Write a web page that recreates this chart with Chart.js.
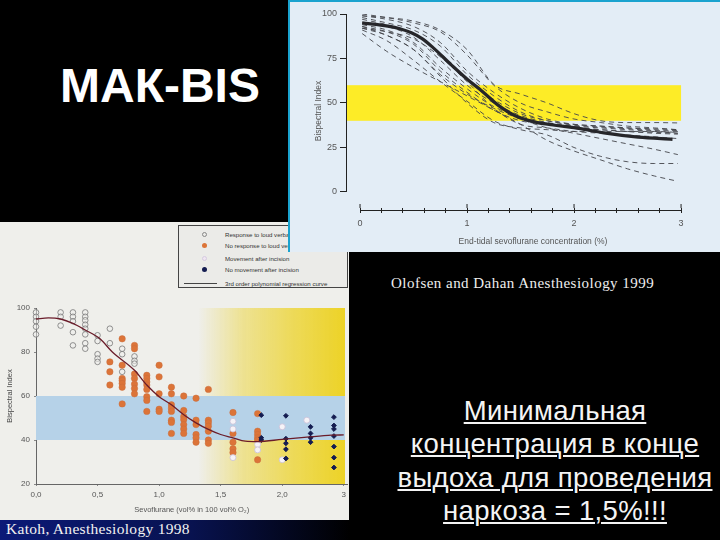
<!DOCTYPE html>
<html>
<head>
<meta charset="utf-8">
<title>МАК-BIS</title>
<script src="https://cdn.jsdelivr.net/npm/chart.js@4"></script>
<style>
  html, body { margin: 0; padding: 0; background: #000; }
  #slide { position: relative; width: 720px; height: 540px; overflow: hidden; background: #000; }
  #slide > * { position: absolute; }
  #title { left: 60px; top: 58px; color: #fff; font: bold 48px "Liberation Sans", sans-serif; white-space: nowrap; }
  #katoh-panel { left: 0; top: 222px; width: 349px; height: 298px; background: #efefeb; }
  #katoh-chart { left: 0; top: 222px; }
  #katoh-legend { left: 178px; top: 225px; width: 168px; height: 61px; border: 1px solid #444; background: #ebebe8; font: 6.1px "Liberation Sans", sans-serif; color: #333; }
  #katoh-legend div { position: absolute; left: 46px; white-space: nowrap; }
  #katoh-legend i { position: absolute; left: -23px; top: 1px; width: 5px; height: 5px; border-radius: 50%; box-sizing: border-box; }
  #katoh-legend i.line { left: -41px; top: 3px; width: 33px; height: 1px; border-radius: 0; background: #444; }
  #olofsen-panel { left: 288px; top: 0; width: 432px; height: 252px; background: #e3edf6; }
  #olofsen-chart { left: 288px; top: 0; }
  #olofsen-edge { left: 288px; top: 0; width: 430px; height: 250px; border-left: 2px solid #1aa3cf; border-top: 2px solid #1aa3cf; }
  #olofsen-cite { left: 391px; top: 275px; color: #eee; font: 15px "Liberation Serif", serif; letter-spacing: 0.47px; white-space: nowrap; }
  #katoh-cite { left: 0; top: 520px; width: 350px; height: 20px; line-height: 17px; text-indent: 6px; color: #f2f2f2; font-family: "Liberation Serif", serif; font-size: 15.5px; letter-spacing: 0.3px; background: linear-gradient(90deg, #0b1a78 0%, #08124f 55%, #000 100%); }
  #note { left: 390px; top: 394px; width: 330px; text-align: center; color: #f4f4f4; font: 27.5px/33.3px "Liberation Sans", sans-serif; letter-spacing: 0.35px; text-decoration: underline; text-underline-offset: 2px; text-decoration-thickness: 2px; }
</style>
</head>
<body>
<div id="slide">
  <div id="title">МАК-BIS</div>
  <div id="katoh-panel"></div>
  <canvas id="katoh-chart" width="350" height="298"></canvas>
  <div id="katoh-legend"></div>
  <div id="olofsen-panel"></div>
  <canvas id="olofsen-chart" width="432" height="252"></canvas>
  <div id="olofsen-edge"></div>
  <div id="olofsen-cite">Olofsen and Dahan Anesthesiology 1999</div>
  <div id="katoh-cite">Katoh, Anesthesiology 1998</div>
  <div id="note">Минимальная<br>концентрация в конце<br>выдоха для проведения<br>наркоза = 1,5%!!!</div>
</div>

<script>
// Olofsen and Dahan: one dashed curve per subject, thick line for the mean
const sevoX = [0.02, 0.25, 0.5, 0.75, 1.0, 1.25, 1.5, 1.75, 2.0, 2.25, 2.5, 2.75, 2.97];
const subjectA = [99, 98, 96, 91, 80, 60.5, 55, 50, 44, 40, 39, 39, 38.8];
const subjectB = [100, 98, 95, 90, 77, 60, 50, 45, 41, 39, 37, 36, 35];
const subjectC = [99, 97, 93, 84, 68, 56, 47, 41, 38, 37, 36, 35.5, 35];
const subjectD = [98, 95, 91, 82, 66, 54, 45, 40, 38, 37, 36, 35, 34.5];
const subjectE = [97, 94, 89, 78, 63, 52, 44, 40, 37.5, 36.5, 35.5, 34.5, 34];
const subjectF = [95, 93, 87, 74, 60, 50, 43, 39, 37, 36, 35, 34, 33];
const subjectG = [94, 91, 84, 70, 58, 48, 42, 38, 36.5, 35, 34, 33.5, 33];
const subjectH = [93, 90, 83, 68, 56, 46, 40, 38, 36, 35, 34, 33, 32.5];
const subjectI = [92, 88, 80, 66, 55, 47, 41, 36, 33, 30, 27, 24, 21];
const subjectJ = [91, 85, 74, 62, 51, 40, 35, 32, 25, 20, 17, 16, 16];
const subjectK = [89, 79, 70, 62, 54, 46, 38, 29, 23, 18, 13, 9, 6];
const subjectL = [92, 90, 86, 76, 62, 47, 38, 36, 34, 33, 32, 31, 30];
const subjectM = [93, 88, 80, 65, 50, 39, 36, 35, 34, 34, 34, 34, 33.5];
const subjects = [subjectA, subjectB, subjectC, subjectD, subjectE, subjectF, subjectG, subjectH, subjectI, subjectJ, subjectK, subjectL, subjectM];
const meanX = [0.02, 0.26, 0.38, 0.48, 0.58, 0.67, 0.855, 1.01, 1.13, 1.29, 1.445, 1.63, 1.82, 2.0, 2.28, 2.6, 2.92];
const meanBis = [95, 93.2, 91.6, 89.5, 86.2, 81.8, 71.3, 62.9, 57.2, 48.8, 43, 39.4, 37.5, 36.2, 33.2, 30.8, 29.6];
const olofsenYTicks = [0, 25, 50, 75, 100];
const olofsenXTicks = [0, 0.2, 0.4, 0.6, 0.8, 1, 1.2, 1.4, 1.6, 1.8, 2, 2.2, 2.4, 2.6, 2.8, 3];
const olofsenBand = [40, 60];

// Katoh: [sevoflurane, BIS] read per column
const responsePoints = [
  [0, 98], [0, 96], [0, 94], [0, 91.5], [0, 88],
  [0.2, 98], [0.2, 96], [0.2, 92],
  [0.3, 98], [0.3, 96], [0.3, 94], [0.3, 89], [0.3, 83],
  [0.4, 98], [0.4, 96], [0.4, 94.4], [0.4, 92.4], [0.4, 90.6], [0.4, 88], [0.4, 84], [0.4, 81.5],
  [0.5, 87.6], [0.5, 85], [0.5, 79], [0.5, 77], [0.5, 75.5],
  [0.6, 90.6], [0.6, 84],
  [0.7, 81.5], [0.7, 79], [0.7, 71],
  [0.8, 78], [0.8, 76], [0.8, 74.7]
];
const noResponsePoints = [
  [0.6, 75.5], [0.6, 71], [0.6, 65],
  [0.7, 86], [0.7, 74], [0.7, 68], [0.7, 67], [0.7, 65.7], [0.7, 64], [0.7, 56.4],
  [0.8, 83], [0.8, 81.5], [0.8, 70], [0.8, 68], [0.8, 65.4], [0.8, 63.4], [0.8, 61],
  [0.9, 69.4], [0.9, 68], [0.9, 66.4], [0.9, 65], [0.9, 63], [0.9, 59.7], [0.9, 58], [0.9, 53],
  [1.0, 74], [1.0, 68.7], [1.0, 61], [1.0, 54], [1.0, 53],
  [1.1, 64], [1.1, 61], [1.1, 56], [1.1, 54.5], [1.1, 53], [1.1, 49], [1.1, 48], [1.1, 43],
  [1.2, 60], [1.2, 53.4], [1.2, 50.7], [1.2, 49.3], [1.2, 47], [1.2, 45], [1.2, 43],
  [1.3, 59], [1.3, 49], [1.3, 47], [1.3, 42.5], [1.3, 41], [1.3, 39],
  [1.4, 63], [1.4, 49], [1.4, 47.8], [1.4, 46.3], [1.4, 44], [1.4, 40], [1.4, 38.5],
  [1.6, 52.5], [1.6, 43], [1.6, 39], [1.6, 36], [1.6, 34.3],
  [1.8, 52], [1.8, 44], [1.8, 42.5], [1.8, 41], [1.8, 40], [1.8, 31]
];
const movementPoints = [[1.6, 48.5], [1.6, 45], [1.6, 32], [1.8, 38], [1.8, 35.5], [2.0, 46], [2.0, 31], [2.2, 49]];
const noMovementPoints = [
  [1.83, 51.3], [1.83, 41], [1.83, 40],
  [2.03, 51], [2.03, 40.6], [2.03, 38.5], [2.03, 35.8], [2.03, 31.6],
  [2.23, 46], [2.23, 43], [2.23, 41], [2.23, 39],
  [2.42, 50.4], [2.42, 46.6], [2.42, 45], [2.42, 41.8], [2.42, 37], [2.42, 32], [2.42, 27.5]
];
const regressionX = [0, 0.1, 0.2, 0.3, 0.4, 0.52, 0.62, 0.8, 0.9, 1.0, 1.1, 1.2, 1.3, 1.4, 1.5, 1.6, 1.7, 1.8, 2.0, 2.2, 2.4, 2.5];
const regressionY = [95, 95.5, 95, 93, 90, 86, 80, 71.7, 65, 59.7, 56, 51.5, 47.8, 44.8, 42.5, 41, 39.5, 39.3, 40.3, 41.3, 42.2, 42.3];
const katohYTicks = [20, 40, 60, 80, 100];
const katohXTicks = [0, 0.5, 1, 1.5, 2, 2.5];
const katohXLabels = ['0,0', '0,5', '1,0', '1,5', '2,0', '3'];
const katohBand = [40, 60];
const legendNames = ['Response to loud verbal command', 'No response to loud verbal command', 'Movement after incision', 'No movement after incision', '3rd order polynomial regression curve'];

Chart.defaults.animation = false;
Chart.defaults.responsive = false;
Chart.defaults.font.family = '"Liberation Sans", sans-serif';

const pairs = (xs, ys) => xs.map((x, i) => ({ x: x, y: ys[i] }));
const points = list => list.map(p => ({ x: p[0], y: p[1] }));

const olofsenDecor = {
  id: 'olofsenDecor',
  beforeDatasetsDraw(chart) {
    const { ctx, scales: { x, y } } = chart;
    ctx.save();
    ctx.fillStyle = '#fdec27';
    ctx.fillRect(x.left, y.getPixelForValue(olofsenBand[1]), x.getPixelForValue(3) - x.left, y.getPixelForValue(olofsenBand[0]) - y.getPixelForValue(olofsenBand[1]));
    ctx.restore();
  },
  afterDraw(chart) {
    const { ctx, scales: { x, y }, chartArea } = chart;
    ctx.save();
    ctx.strokeStyle = '#222';
    ctx.lineWidth = 1;
    ctx.beginPath();
    ctx.moveTo(x.left + 0.5, y.getPixelForValue(100));
    ctx.lineTo(x.left + 0.5, y.getPixelForValue(0));
    ctx.moveTo(x.getPixelForValue(0), chartArea.bottom + 2.5);
    ctx.lineTo(x.getPixelForValue(3), chartArea.bottom + 2.5);
    // whole-number ticks stand taller
    [0, 1, 2, 3].forEach(v => {
      ctx.moveTo(x.getPixelForValue(v), chartArea.bottom - 4);
      ctx.lineTo(x.getPixelForValue(v), chartArea.bottom);
    });
    ctx.stroke();
    ctx.restore();
  }
};

new Chart(document.getElementById('olofsen-chart'), {
  type: 'line',
  data: {
    datasets: [
      { data: pairs(meanX, meanBis), borderColor: '#26262a', borderWidth: 3.2, cubicInterpolationMode: 'monotone' },
      ...subjects.map(s => ({ data: pairs(sevoX, s), borderColor: '#44454b', borderWidth: 0.9, borderDash: [5, 4], cubicInterpolationMode: 'monotone' }))
    ]
  },
  options: {
    parsing: false,
    layout: { autoPadding: false, padding: { top: 14 } },
    elements: { point: { radius: 0 } },
    plugins: { legend: { display: false }, tooltip: { enabled: false } },
    scales: {
      x: {
        type: 'linear', min: -0.131, max: 3.364,
        afterFit(s) { s.height = 44; },
        afterBuildTicks(s) { s.ticks = olofsenXTicks.map(v => ({ value: v })); },
        border: { display: false },
        grid: { drawOnChartArea: false, tickLength: 5, color: '#222' },
        ticks: {
          autoSkip: false, maxRotation: 0, padding: 5, color: '#555', font: { size: 9 },
          callback: v => Number.isInteger(v) ? String(v) : ''
        },
        title: { display: true, text: 'End-tidal sevoflurane concentration (%)', color: '#555', font: { size: 8.5 }, padding: { top: 0, bottom: 5 } }
      },
      y: {
        type: 'linear', min: -9, max: 100,
        afterFit(s) { s.width = 58; },
        afterBuildTicks(s) { s.ticks = olofsenYTicks.map(v => ({ value: v })); },
        border: { display: false },
        grid: { drawOnChartArea: false, tickLength: 6, color: '#222' },
        ticks: { padding: 3, color: '#555', font: { size: 9 } },
        title: { display: true, text: 'Bispectral Index', color: '#555', font: { size: 8.5 }, padding: { top: 26, bottom: 0 } }
      }
    }
  },
  plugins: [olofsenDecor]
});

const katohDecor = {
  id: 'katohDecor',
  beforeDatasetsDraw(chart) {
    const { ctx, scales: { x, y }, chartArea: area } = chart;
    const start = x.getPixelForValue(1.32), end = x.getPixelForValue(2.51);
    const fade = ctx.createLinearGradient(start, 0, end, 0);
    fade.addColorStop(0, 'rgba(236,210,38,0)');
    fade.addColorStop(0.3, 'rgba(236,210,38,0.45)');
    fade.addColorStop(0.65, 'rgba(236,210,38,0.75)');
    fade.addColorStop(1, 'rgba(236,210,38,1)');
    ctx.save();
    ctx.fillStyle = fade;
    ctx.fillRect(start, area.top, end - start, area.bottom - area.top);
    ctx.fillStyle = '#b6d2e8';
    ctx.fillRect(area.left, y.getPixelForValue(katohBand[1]), end - area.left, y.getPixelForValue(katohBand[0]) - y.getPixelForValue(katohBand[1]));
    ctx.restore();
  }
};

new Chart(document.getElementById('katoh-chart'), {
  type: 'scatter',
  data: {
    datasets: [
      { type: 'line', data: pairs(regressionX, regressionY), borderColor: '#6a1c2a', borderWidth: 1.3, cubicInterpolationMode: 'monotone', pointRadius: 0, clip: false },
      { data: points(noMovementPoints), pointStyle: 'rectRot', pointRadius: 2.4, backgroundColor: '#141c50', borderColor: '#141c50', clip: false },
      { data: points(movementPoints), pointRadius: 3, backgroundColor: '#f6f3f7', borderColor: '#c9c0d8', borderWidth: 0.8, clip: false },
      { data: points(noResponsePoints), pointRadius: 3.2, backgroundColor: '#dc7438', borderColor: '#c96c3c', borderWidth: 0.5, clip: false },
      { data: points(responsePoints), pointRadius: 2.8, backgroundColor: 'rgba(240,240,238,0.5)', borderColor: '#777', borderWidth: 0.8, clip: false }
    ]
  },
  options: {
    parsing: false,
    layout: { autoPadding: false, padding: { top: 86 } },
    plugins: { legend: { display: false }, tooltip: { enabled: false } },
    scales: {
      x: {
        type: 'linear', min: 0, max: 2.53,
        afterFit(s) { s.height = 36; },
        afterBuildTicks(s) { s.ticks = katohXTicks.map(v => ({ value: v })); },
        border: { color: '#666', width: 1 },
        grid: { drawOnChartArea: false, tickLength: 2, color: '#888' },
        ticks: {
          autoSkip: false, maxRotation: 0, padding: 4, color: '#555', font: { size: 8 },
          callback: (v, i) => katohXLabels[i]
        },
        title: { display: true, text: 'Sevoflurane (vol% in 100 vol% O₂)', color: '#555', font: { size: 7.5 }, padding: { top: 0, bottom: 6 } }
      },
      y: {
        type: 'linear', min: 20, max: 100,
        afterFit(s) { s.width = 36; },
        afterBuildTicks(s) { s.ticks = katohYTicks.map(v => ({ value: v })); },
        border: { color: '#666', width: 1 },
        grid: { drawOnChartArea: false, tickLength: 2, color: '#888' },
        ticks: { padding: 4, color: '#555', font: { size: 8 } },
        title: { display: true, text: 'Bispectral Index', color: '#444', font: { size: 7.5 }, padding: { top: 5, bottom: 0 } }
      }
    }
  },
  plugins: [katohDecor]
});

// legend rows, marker styles follow the scatter series above
const legendEl = document.getElementById('katoh-legend');
const legendMarks = [
  'border:1px solid #888;',
  'background:#dc7438;',
  'background:#f0e6f2;border:1px solid #d5cbe0;',
  'background:#141c50;',
  ''
];
const legendRows = [5, 16, 29, 40, 54];
legendNames.forEach((name, i) => {
  const row = document.createElement('div');
  row.style.top = legendRows[i] + 'px';
  row.innerHTML = `<i class="${i === 4 ? 'line' : ''}" style="${legendMarks[i]}"></i>${name}`;
  legendEl.appendChild(row);
});
</script>
</body>
</html>
